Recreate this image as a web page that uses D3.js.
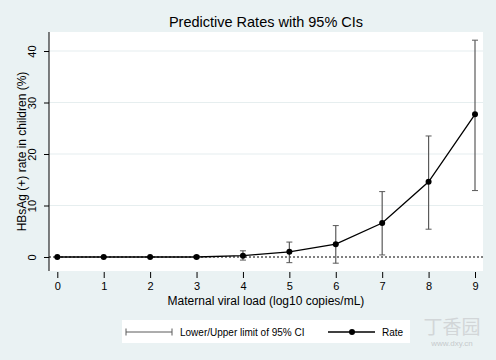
<!DOCTYPE html>
<html>
<head>
<meta charset="utf-8">
<script src="https://cdn.jsdelivr.net/npm/d3@7"></script>
<style>
body{margin:0;background:#eaf2f3;}
text{font-family:"Liberation Sans",Arial,sans-serif;fill:#000;}
</style>
</head>
<body>
<svg id="chart" width="496" height="360"></svg>
<script>
// values
var viralLoad = [0, 1, 2, 3, 4, 5, 6, 7, 8, 9];
var rate      = [0, 0, 0, 0, 0.25, 1.0, 2.5, 6.6, 14.6, 27.7];
var ciLower   = [-0.05, -0.05, -0.05, -0.2, -0.6, -1.1, -1.2, 0.4, 5.4, 12.9];
var ciUpper   = [0.05, 0.05, 0.05, 0.3, 1.2, 2.9, 6.1, 12.7, 23.5, 42.1];
var xTicks = [0, 1, 2, 3, 4, 5, 6, 7, 8, 9];
var yTicks = [0, 10, 20, 30, 40];

var svg = d3.select("#chart");

// plot region
var plot = {left: 49, right: 483, top: 32, bottom: 271};

var x = d3.scaleLinear().domain([0, 9]).range([57.3, 475]);
var y = d3.scaleLinear().domain([0, 40]).range([257, 51]);

svg.append("rect")
	.attr("x", plot.left).attr("y", plot.top)
	.attr("width", plot.right - plot.left)
	.attr("height", plot.bottom - plot.top)
	.style("fill", "#fff");

// gridlines
svg.selectAll(".grid")
	.data(yTicks.filter(function(d){return d > 0;}))
	.enter()
	.append("line")
	.attr("class", "grid")
	.attr("x1", plot.left).attr("x2", plot.right)
	.attr("y1", function(d){return y(d);})
	.attr("y2", function(d){return y(d);})
	.style("stroke", "#e6eeef")
	.style("stroke-width", 1.2);

// zero reference line
svg.append("line")
	.attr("x1", plot.left).attr("x2", plot.right)
	.attr("y1", y(0)).attr("y2", y(0))
	.style("stroke", "#000")
	.style("stroke-width", 1)
	.style("stroke-dasharray", "2,2");

// y axis
var yAxis = d3.axisLeft(y).tickValues(yTicks).tickSize(5).tickPadding(4);
var gy = svg.append("g")
	.attr("transform", "translate(" + plot.left + ",0)")
	.call(yAxis);
gy.select(".domain").remove();
gy.append("line")
	.attr("x1", 0).attr("x2", 0)
	.attr("y1", plot.top).attr("y2", plot.bottom)
	.style("stroke", "#000");
gy.selectAll(".tick line").style("stroke", "#000");
gy.selectAll(".tick text")
	.style("font-size", "11px")
	.attr("x", 0).attr("dy", 0)
	.attr("text-anchor", "middle")
	.attr("transform", "translate(-13,0) rotate(-90)");

// x axis
var xAxis = d3.axisBottom(x).tickValues(xTicks).tickSize(6).tickPadding(4);
var gx = svg.append("g")
	.attr("transform", "translate(0," + (plot.bottom + 1) + ")")
	.call(xAxis);
gx.select(".domain").remove();
gx.selectAll(".tick line").style("stroke", "#000");
gx.selectAll(".tick text").style("font-size", "11px");

// confidence interval caps
var ci = svg.append("g").attr("class", "ci");
viralLoad.forEach(function(v, i){
	var cx = x(v);
	ci.append("line")
		.attr("x1", cx).attr("x2", cx)
		.attr("y1", y(ciLower[i])).attr("y2", y(ciUpper[i]))
		.style("stroke", "#5a5a5a").style("stroke-width", 1.2);
	[ciLower[i], ciUpper[i]].forEach(function(val){
		ci.append("line")
			.attr("x1", cx - 3).attr("x2", cx + 3)
			.attr("y1", y(val)).attr("y2", y(val))
			.style("stroke", "#5a5a5a").style("stroke-width", 1);
	});
});

// rate line
var line = d3.line()
	.x(function(d, i){return x(viralLoad[i]);})
	.y(function(d){return y(d);});

svg.append("path")
	.datum(rate)
	.attr("d", line)
	.style("fill", "none")
	.style("stroke", "#000")
	.style("stroke-width", 1.3);

svg.selectAll(".pt")
	.data(rate)
	.enter()
	.append("circle")
	.attr("class", "pt")
	.attr("cx", function(d, i){return x(viralLoad[i]);})
	.attr("cy", function(d){return y(d);})
	.attr("r", 3)
	.style("fill", "#000");

// titles
svg.append("text")
	.attr("x", (plot.left + plot.right) / 2).attr("y", 27)
	.attr("text-anchor", "middle")
	.style("font-size", "14.5px")
	.text("Predictive Rates with 95% CIs");

svg.append("text")
	.attr("x", (plot.left + plot.right) / 2).attr("y", 305)
	.attr("text-anchor", "middle")
	.style("font-size", "12px")
	.text("Maternal viral load (log10 copies/mL)");

svg.append("text")
	.attr("transform", "translate(26," + ((plot.top + plot.bottom) / 2) + ") rotate(-90)")
	.attr("text-anchor", "middle")
	.style("font-size", "12px")
	.text("HBsAg (+) rate in children (%)");

// legend
var legend = svg.append("g");
legend.append("rect")
	.attr("x", 122).attr("y", 320)
	.attr("width", 288).attr("height", 23)
	.style("fill", "#fff");

legend.append("line")
	.attr("x1", 126).attr("x2", 172).attr("y1", 332).attr("y2", 332)
	.style("stroke", "#5a5a5a");
[126, 172].forEach(function(lx){
	legend.append("line")
		.attr("x1", lx).attr("x2", lx).attr("y1", 328.5).attr("y2", 335.5)
		.style("stroke", "#5a5a5a");
});
legend.append("text")
	.attr("x", 180).attr("y", 336)
	.style("font-size", "10px")
	.text("Lower/Upper limit of 95% CI");

legend.append("line")
	.attr("x1", 328).attr("x2", 375).attr("y1", 332).attr("y2", 332)
	.style("stroke", "#000").style("stroke-width", 1.3);
legend.append("circle")
	.attr("cx", 352).attr("cy", 332).attr("r", 3)
	.style("fill", "#000");
legend.append("text")
	.attr("x", 382).attr("y", 336)
	.style("font-size", "10px")
	.text("Rate");

// watermark
svg.append("text")
	.attr("x", 452).attr("y", 334)
	.attr("text-anchor", "middle")
	.style("font-family", "Noto Sans CJK SC")
	.style("font-size", "19px")
	.style("fill", "#d2d6d8")
	.text("丁香园");
svg.append("text")
	.attr("x", 452).attr("y", 346)
	.attr("text-anchor", "middle")
	.style("font-size", "8px")
	.style("fill", "#c6cacc")
	.text("www.dxy.cn");
</script>
</body>
</html>
